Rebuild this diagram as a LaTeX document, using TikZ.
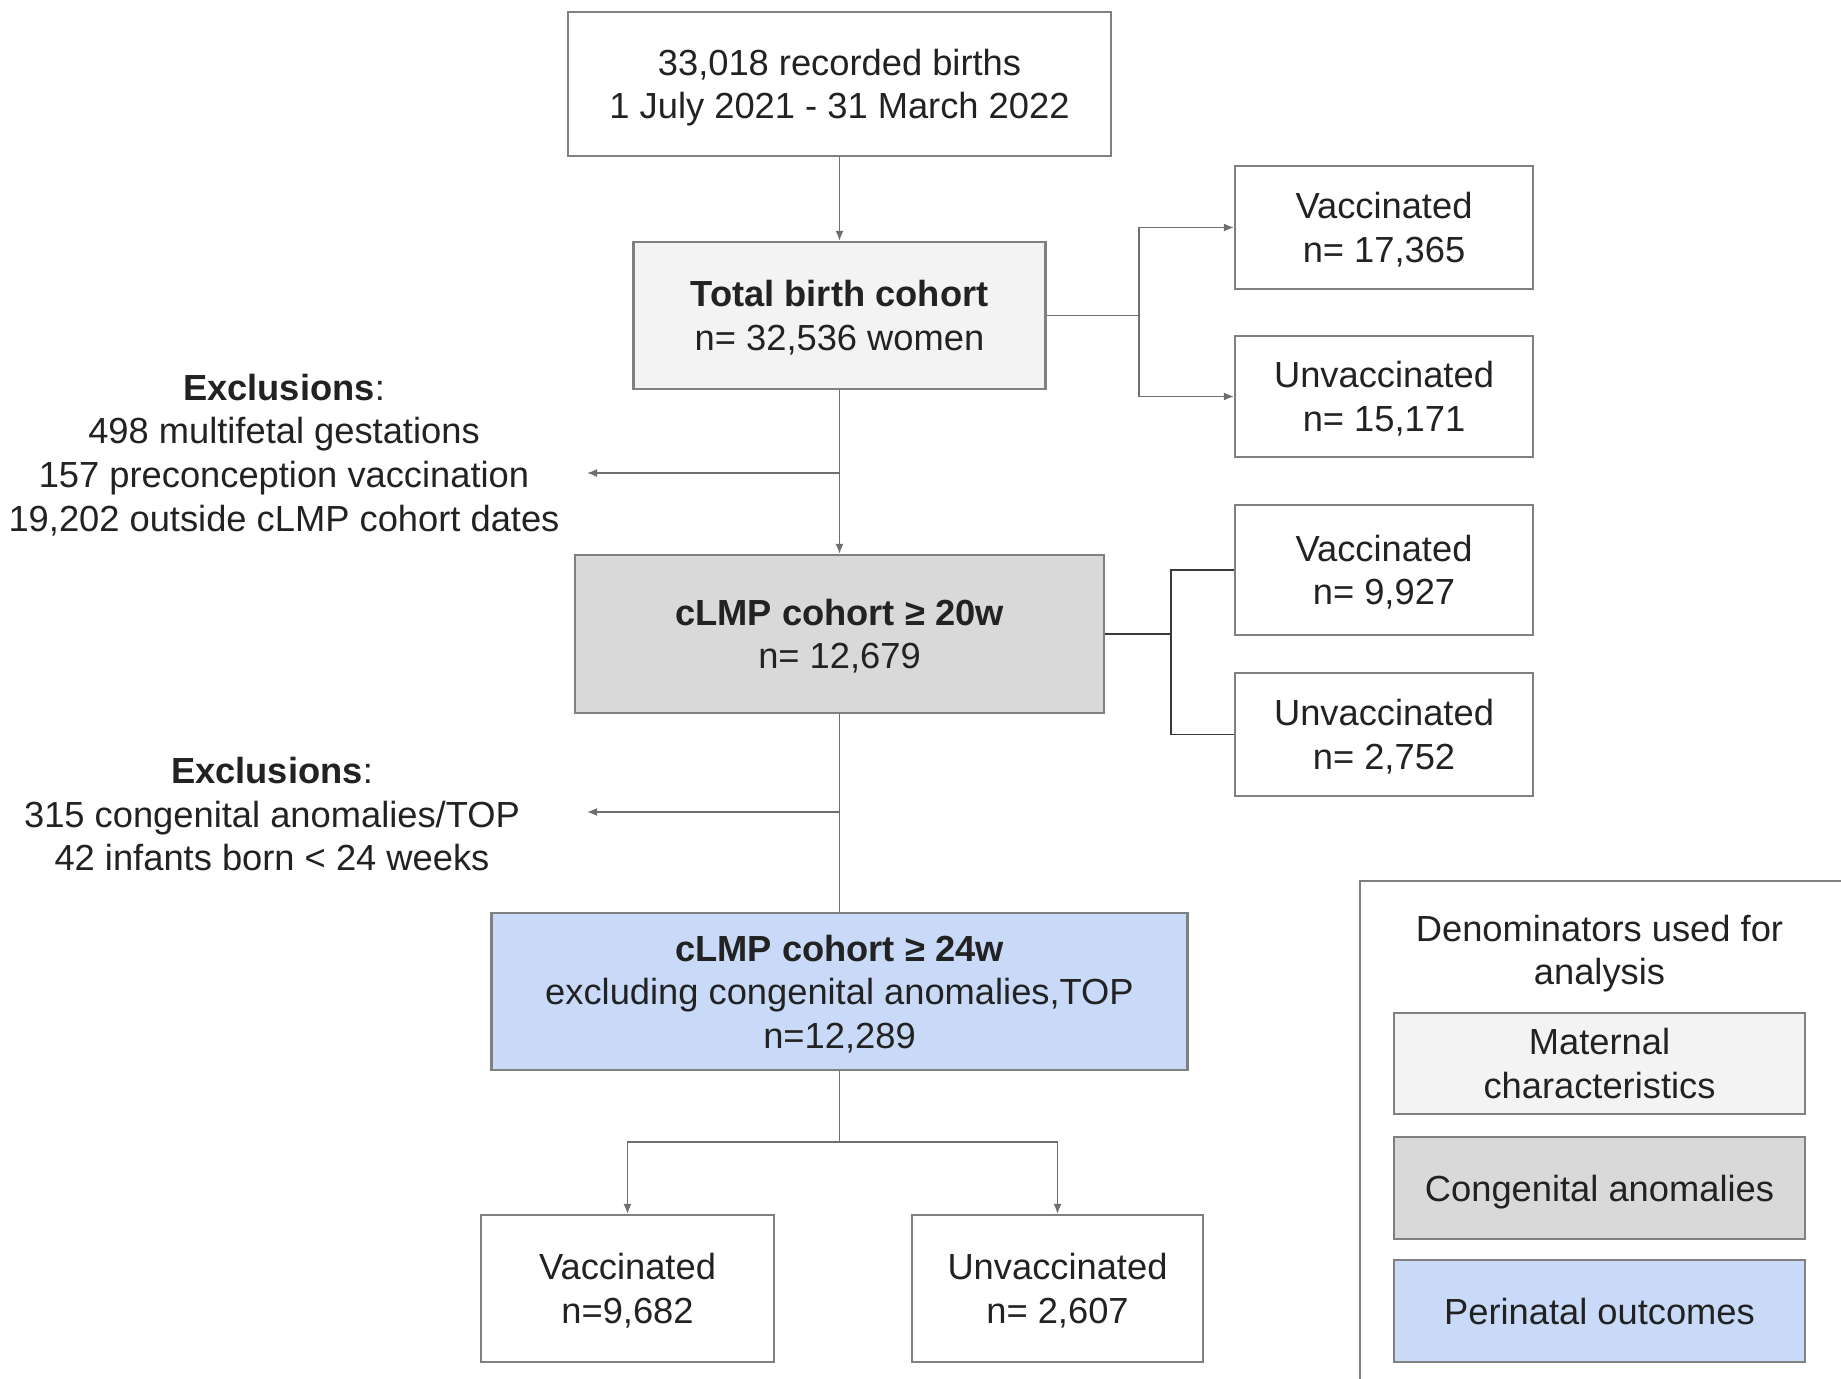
\documentclass[tikz,border=0pt]{standalone}
\usepackage{fontspec}
\setmainfont{Liberation Sans}
\usetikzlibrary{arrows.meta}
\definecolor{boxgray}{HTML}{808080}
\definecolor{linegray}{HTML}{6E6E6E}
\definecolor{darkline}{HTML}{3A3A3A}
\definecolor{txt}{HTML}{222222}
\definecolor{fillA}{HTML}{F3F3F3}
\definecolor{fillB}{HTML}{D9D9D9}
\definecolor{fillC}{HTML}{C9DAF8}
\newcommand{\fsz}{\fontsize{18.15}{21.8}\selectfont}
\begin{document}
\begin{tikzpicture}[x=0.5pt,y=-0.5pt,
  box/.style={draw=boxgray, line width=1.1pt, fill=white, align=center, inner sep=0pt, text=txt, font=\fsz, text depth=0pt},
  plain/.style={align=center, inner sep=0pt, text=txt, font=\fsz, text depth=0pt},
  conn/.style={draw=linegray, line width=0.8pt},
  dconn/.style={draw=darkline, line width=0.9pt},
  arr/.style={conn, -{Latex[length=5pt,width=4pt]}}]
\useasboundingbox (0,0) rectangle (1841,1379);
\clip (0,0) rectangle (1841,1379);
\fill[white] (0,0) rectangle (1841,1379);

% main column
\node[box, minimum width=271.5pt, minimum height=72pt] (top) at (839.5,84) {33,018 recorded births\\1 July 2021 - 31 March 2022};
\node[box, fill=fillA, minimum width=206pt, minimum height=73.5pt] (total) at (839.5,315.5) {\textbf{Total birth cohort}\\n= 32,536 women};
\node[box, fill=fillB, minimum width=264.5pt, minimum height=79pt] (clmp20) at (839.5,634) {\textbf{cLMP cohort ≥ 20w}\\n= 12,679};
\node[box, fill=fillC, minimum width=348pt, minimum height=78.5pt] (clmp24) at (839.5,991.5) {\textbf{cLMP cohort ≥ 24w}\\excluding congenital anomalies,TOP\\n=12,289};

% right branches
\node[box, minimum width=149pt, minimum height=61.5pt] (v1) at (1384,227.5) {Vaccinated\\n= 17,365};
\node[box, minimum width=149pt, minimum height=60.5pt] (u1) at (1384,396.5) {Unvaccinated\\n= 15,171};
\node[box, minimum width=149pt, minimum height=65pt] (v2) at (1384,570) {Vaccinated\\n= 9,927};
\node[box, minimum width=149pt, minimum height=61.5pt] (u2) at (1384,734.5) {Unvaccinated\\n= 2,752};

% bottom
\node[box, minimum width=146.5pt, minimum height=73.5pt] (v3) at (627.5,1288.5) {Vaccinated\\n=9,682};
\node[box, minimum width=145.5pt, minimum height=73.5pt] (u3) at (1057.5,1288.5) {Unvaccinated\\n= 2,607};

% exclusions
\node[plain] (ex1) at (284,452.5) {\textbf{Exclusions}:\\498 multifetal gestations\\157 preconception vaccination\\19,202 outside cLMP cohort dates};
\node[plain] (ex2) at (272,814) {\textbf{Exclusions}:\\315 congenital anomalies/TOP\\42 infants born < 24 weeks};

% legend
\draw[draw=boxgray, line width=1.1pt] (1360,1420) -- (1360,881) -- (1900,881);
\node[plain] (legtitle) at (1599.5,950) {Denominators used for\\analysis};
\node[box, fill=fillA, minimum width=205.5pt, minimum height=50.5pt] (lmat) at (1599.5,1063.5) {Maternal\\characteristics};
\node[box, fill=fillB, minimum width=205.5pt, minimum height=51pt] (lcon) at (1599.5,1188) {Congenital anomalies};
\node[box, fill=fillC, minimum width=205.5pt, minimum height=51pt] (lper) at (1599.5,1311) {Perinatal outcomes};

% connectors
\draw[arr] (top) -- (total);
\coordinate (c1) at (1139,315.5);
\draw[conn] (total.east) -- (c1);
\draw[arr] (c1) |- (v1.west);
\draw[arr] (c1) |- (u1.west);

\draw[arr] (total) -- (clmp20);
\coordinate (x1) at (839.5,473);
\coordinate (x1tip) at (587,473);
\draw[arr] (x1) -- (x1tip);

\coordinate (c2) at (1171,634);
\draw[dconn] (clmp20.east) -- (c2);
\draw[dconn] (c2) |- (v2.west);
\draw[dconn] (c2) |- (u2.west);

\draw[conn] (clmp20) -- (clmp24);
\coordinate (x2) at (839.5,812);
\coordinate (x2tip) at (587,812);
\draw[arr] (x2) -- (x2tip);

\coordinate (c3) at (839.5,1142);
\draw[conn] (clmp24) -- (c3);
\draw[arr] (c3) -| (v3.north);
\draw[arr] (c3) -| (u3.north);
\end{tikzpicture}
\end{document}
